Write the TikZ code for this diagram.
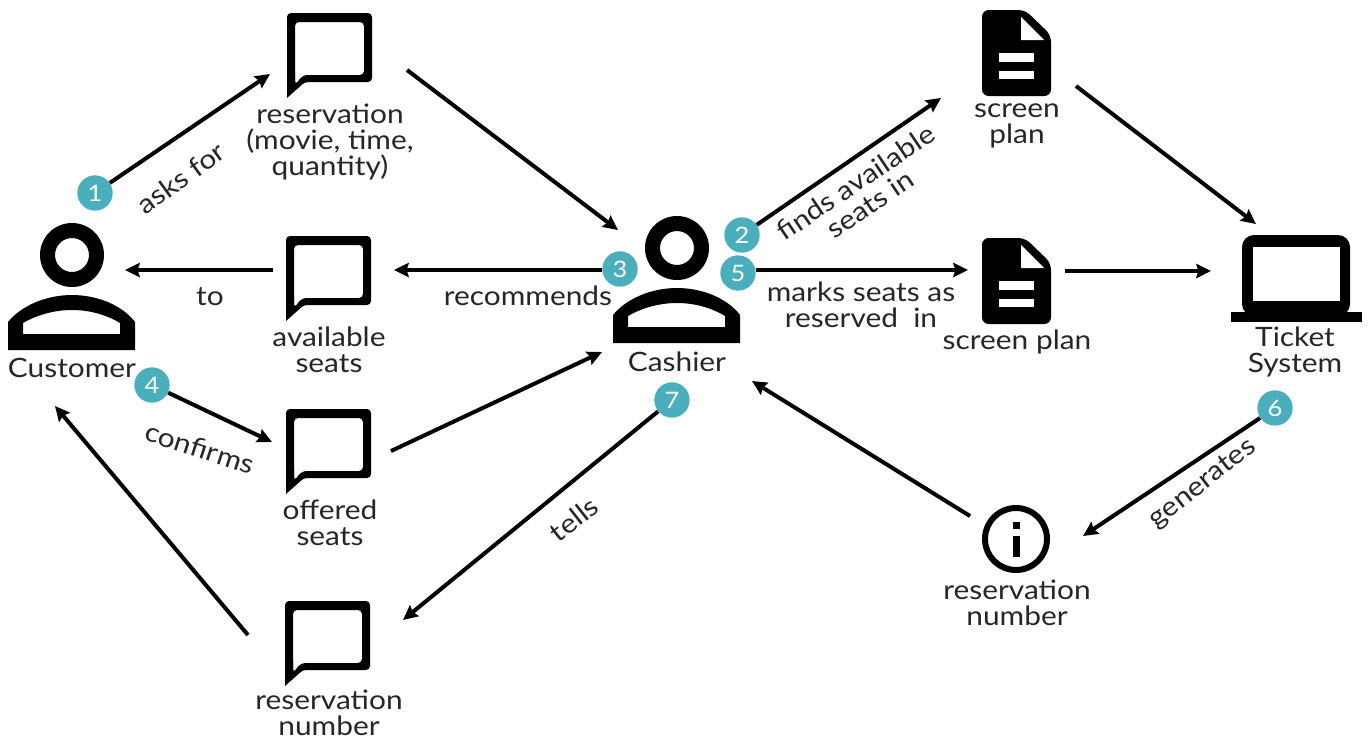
\documentclass[tikz,border=0pt]{standalone}
\usepackage{fontspec}
\setmainfont[FakeStretch=1.12]{Lato}
\usetikzlibrary{arrows.meta}
\definecolor{teal1}{HTML}{4BAEBD}
\tikzset{
  x=0.75pt,y=-0.75pt,
  lbl/.style={font=\fontsize{20}{19.5}\selectfont,align=center,inner sep=0pt,text=black!85},
  flow/.style={line width=3pt,-{Stealth[length=11pt,width=10.5pt,inset=1.5pt]},shorten <=0pt,shorten >=0pt},
  badge/.style={circle,fill=teal1,minimum size=26.5pt,inner sep=0pt,text=white,font=\fontsize{17}{17}\selectfont},
  chat/.pic={
    \fill[black,even odd rule,rounded corners=3pt]
      (0,0) -- (85,0) -- (85,69) -- (18,69) -- (0,80) -- cycle
      (8,9) -- (8,72) -- (16,62) -- (77,62) -- (77,9) -- cycle;
    \fill[black] (0,60) -- (0,85) -- (18,69) -- (8,72) -- (8,60) -- cycle;
  },
  person/.pic={
    \fill[black,even odd rule] (0,0) circle[radius=32] (0,0) circle[radius=17];
    \fill[black,even odd rule]
      (-64,95) -- (-64,67) .. controls (-50,50) and (-25,40) .. (0,40)
        .. controls (25,40) and (50,50) .. (63,67) -- (63,95) -- cycle
      (-49,79) -- (-49,68) .. controls (-35,60) and (-18,55) .. (0,55)
        .. controls (18,55) and (35,60) .. (48,68) -- (48,79) -- cycle;
  },
  docu/.pic={
    \fill[black,rounded corners=5pt] (0,0) -- (43,0) -- (69,25) -- (69,86) -- (0,86) -- cycle;
    \fill[white] (39,7) -- (39,30) -- (62,30) -- cycle;
    \fill[white] (17,43) rectangle (52,52);
    \fill[white] (17,61) rectangle (52,69);
  },
  laptop/.pic={
    \fill[black,rounded corners=9pt] (1242,235) rectangle (1350,316);
    \fill[white] (1253,247) rectangle (1340,301);
    \fill[black] (1231,312) rectangle (1362,322);
  },
  infoic/.pic={
    \fill[black,even odd rule] (0,0) circle[radius=34] (0,0) circle[radius=28];
    \fill[black] (-3.5,-17) rectangle (3.5,-10);
    \fill[black] (-3.5,-3) rectangle (3.5,18);
  }
}
\begin{document}
\begin{tikzpicture}
\useasboundingbox[fill=white] (0,0) rectangle (1372,740);
% icons
\pic at (287,13) {chat};
\pic at (286,236) {chat};
\pic at (286,409) {chat};
\pic at (285,601) {chat};
\pic at (72,255) {person};
\pic at (677,248) {person};
\pic at (982,10) {docu};
\pic at (982,238) {docu};
\pic at (0,0) {laptop};
\pic at (1016,539) {infoic};
% badges
\node[badge] (b1) at (95,193) {1};
\node[badge] (b2) at (742,235) {2};
\node[badge] (b3) at (620,269) {3};
\node[badge] (b4) at (152,385) {4};
\node[badge] (b5) at (738,273) {5};
\node[badge] (b6) at (1275,408) {6};
\node[badge] (b7) at (672,400) {7};
% connector ends
\coordinate (resIn) at (270,74);
\coordinate (resOut) at (407,70);
\coordinate (cashA) at (618,230);
\coordinate (planAIn) at (941,98);
\coordinate (planAOut) at (1076,86);
\coordinate (sysA) at (1256,224);
\coordinate (planBIn) at (968,270);
\coordinate (planBOut) at (1065,271);
\coordinate (sysB) at (1211,271);
\coordinate (availIn) at (394,270);
\coordinate (availOut) at (273,270);
\coordinate (custA) at (125,270);
\coordinate (offIn) at (272,442);
\coordinate (offOut) at (391,451);
\coordinate (cashB) at (602,352);
\coordinate (numIn) at (403,620);
\coordinate (numOut) at (248,635);
\coordinate (custB) at (55,406);
\coordinate (infoOut) at (970,516);
\coordinate (cashC) at (752,381);
\coordinate (infoIn) at (1083,536);
% connectors
\draw[flow] (b1) -- (resIn);
\draw[flow] (resOut) -- (cashA);
\draw[flow] (b2) -- (planAIn);
\draw[flow] (planAOut) -- (sysA);
\draw[flow] (b5.east |- planBIn) -- (planBIn);
\draw[flow] (planBOut) -- (sysB);
\draw[flow] (b3.west |- availIn) -- (availIn);
\draw[flow] (availOut) -- (custA);
\draw[flow] (b4) -- (offIn);
\draw[flow] (offOut) -- (cashB);
\draw[flow] (b7) -- (numIn);
\draw[flow] (numOut) -- (custB);
\draw[flow] (infoOut) -- (cashC);
\draw[flow] (b6) -- (infoIn);
% labels
\node[lbl] (t1) at (330,142) {reservation\\(movie, time,\\quantity)};
\node[lbl,rotate=36] (t2) at (181,178) {asks for};
\node[lbl] (t3) at (72,368) {Customer};
\node[lbl] (t4) at (210,297) {to};
\node[lbl] (t5) at (329,350) {available\\seats};
\node[lbl] (t6) at (528,296) {recommends};
\node[lbl] (t7) at (677,362) {Cashier};
\node[lbl,rotate=34] (t8) at (863,193) {finds available\\seats in};
\node[lbl] (t9) at (1017,126) {screen\\plan};
\node[lbl] (t10) at (861,305) {marks seats as\\reserved\ \ in};
\node[lbl] (t11) at (1017,342) {screen plan};
\node[lbl] (t12) at (1295,352) {Ticket\\System};
\node[lbl,rotate=-18] (t13) at (200,448) {confirms};
\node[lbl] (t14) at (330,523) {offered\\seats};
\node[lbl,rotate=38] (t15) at (574,519) {tells};
\node[lbl,rotate=38] (t16) at (1203,484) {generates};
\node[lbl] (t17) at (1017,603) {reservation\\number};
\node[lbl] (t18) at (329,713) {reservation\\number};
\end{tikzpicture}
\end{document}
